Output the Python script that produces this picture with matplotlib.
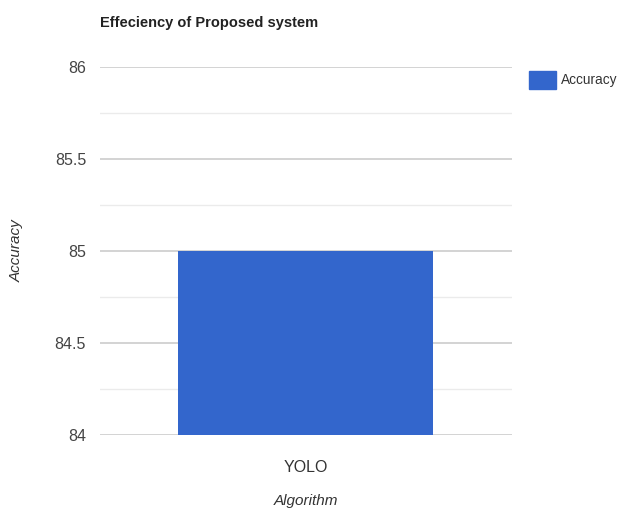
import matplotlib.pyplot as plt
from matplotlib.patches import Patch

algorithms = ["YOLO"]
accuracy = [85]
major_ticks = [84, 84.5, 85, 85.5, 86]
minor_ticks = [84.25, 84.75, 85.25, 85.75]

font = ["Liberation Sans", "DejaVu Sans"]
bar_color = "#3366cc"

fig = plt.figure(figsize=(6.21, 5.16), dpi=100)
ax = fig.add_axes([0.161, 0.157, 0.663, 0.713])

ax.bar(algorithms, accuracy, width=0.62, color=bar_color, zorder=3)
ax.set_xlim(-0.5, 0.5)
ax.set_ylim(84, 86)

ax.set_yticks(major_ticks)
ax.set_yticklabels([f"{t:g}" for t in major_ticks], fontfamily=font, fontsize=11.5, color="#444444")
ax.set_yticks(minor_ticks, minor=True)
ax.grid(axis="y", which="major", color="#cccccc", linewidth=1.2, zorder=0)
ax.grid(axis="y", which="minor", color="#ebebeb", linewidth=1.0, zorder=0)
ax.tick_params(axis="both", which="both", length=0)
ax.tick_params(axis="y", pad=10)
ax.tick_params(axis="x", pad=18)
for lbl in ax.get_xticklabels():
    lbl.set_fontfamily(font)
    lbl.set_fontsize(11.5)
    lbl.set_color("#333333")

for s in ax.spines.values():
    s.set_visible(False)

ax.set_xlabel("Algorithm", fontfamily=font, fontsize=11, style="italic", color="#333333")
ax.xaxis.set_label_coords(0.5, -0.16)
ax.set_ylabel("Accuracy", fontfamily=font, fontsize=11, style="italic", color="#333333")
ax.yaxis.set_label_coords(-0.186, 0.5)

fig.text(0.161, 0.955, "Effeciency of Proposed system", fontfamily=font, fontsize=10.5,
         fontweight="bold", color="#222222", va="center", ha="left")

ax.legend(handles=[Patch(color=bar_color, label="Accuracy")], loc="upper left",
          bbox_to_anchor=(1.012, 1.022), frameon=False, prop={"family": font, "size": 9.8},
          handlelength=2.0, handleheight=1.6, handletextpad=0.35, labelcolor="#333333")

plt.savefig("out.png", dpi=100)
